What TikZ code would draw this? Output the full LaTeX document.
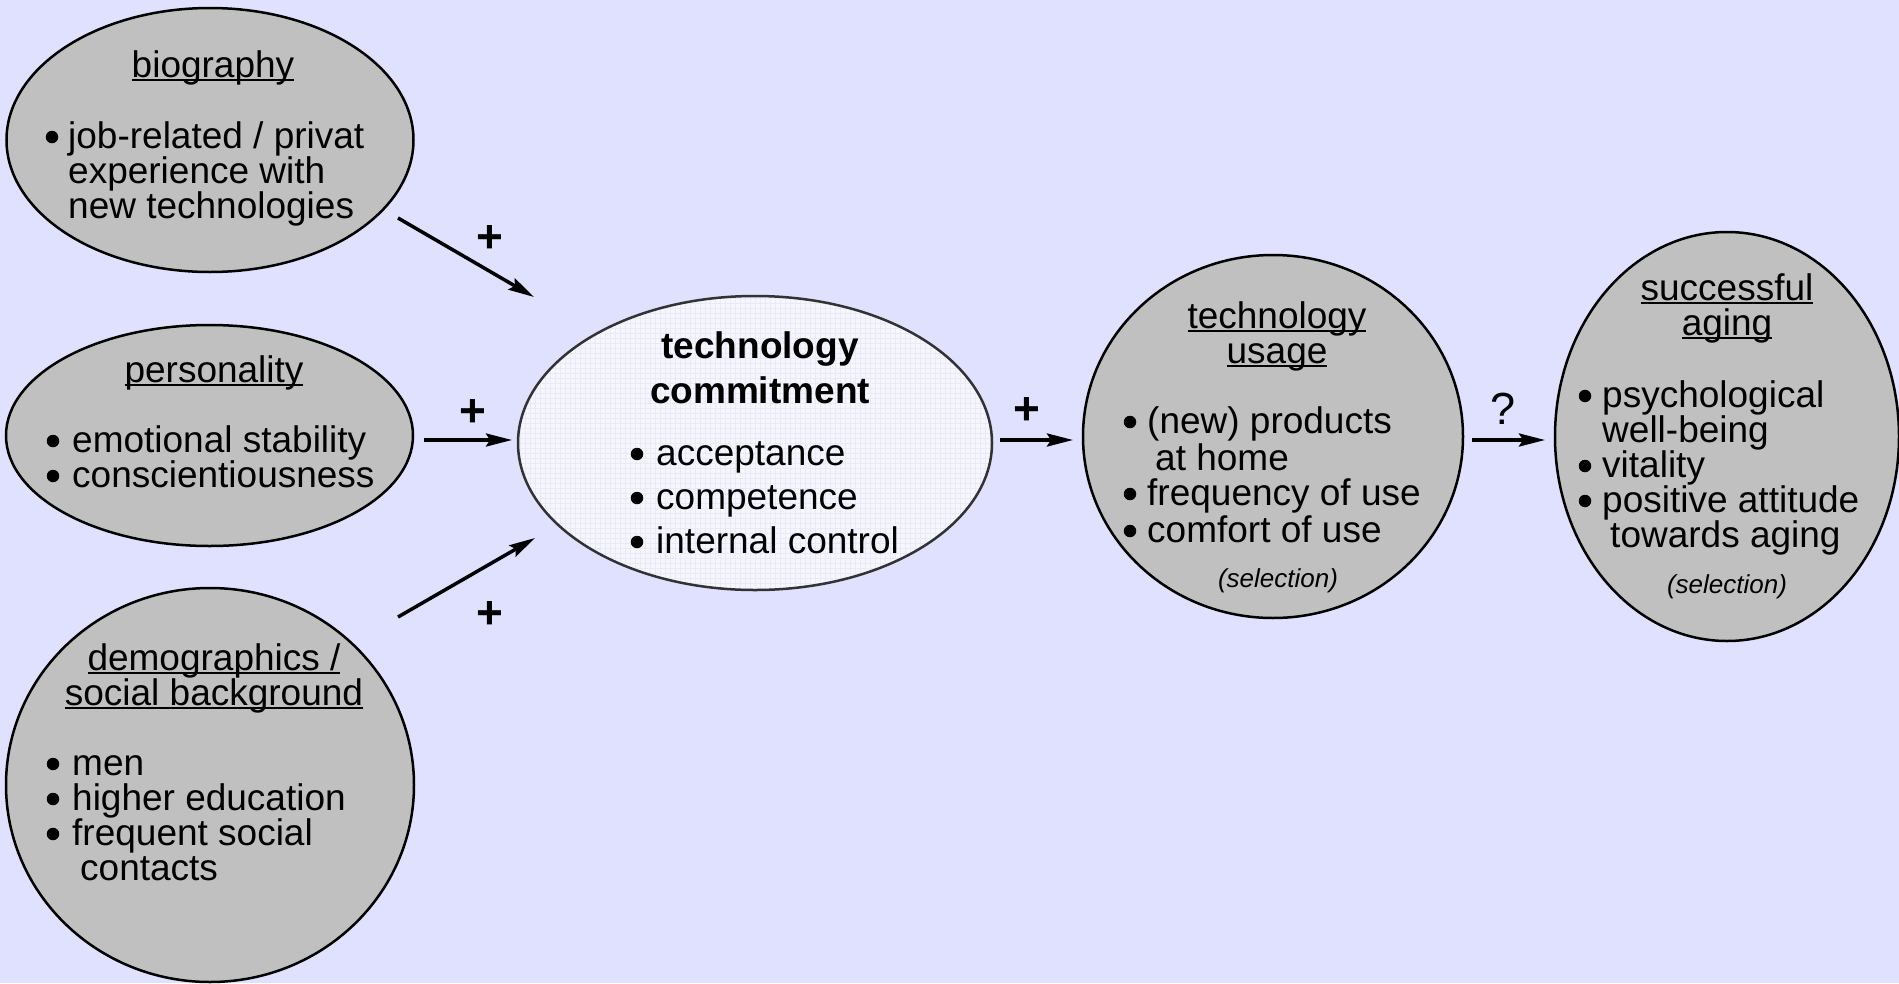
\documentclass[tikz,border=0pt]{standalone}
\usepackage{fontspec}
\setmainfont{Liberation Sans}
\usetikzlibrary{shapes.geometric,arrows.meta}
\definecolor{bg}{RGB}{224,224,255}
\definecolor{ovalfill}{RGB}{192,192,192}
\definecolor{corefill}{RGB}{246,246,255}
\definecolor{coregrid}{RGB}{233,233,248}
\definecolor{coreline}{RGB}{50,50,50}
\newcommand\ulx[1]{\setbox0=\hbox{#1}\rlap{\rule[-4pt]{\wd0}{2pt}}\box0}
\tikzset{
  oval/.style={ellipse, draw=black, line width=2.5pt, fill=ovalfill, inner sep=0pt},
  coreoval/.style={ellipse, draw=coreline, line width=2.5pt, fill=corefill, inner sep=0pt,
    path picture={\draw[coregrid, line width=0.5pt, step=5pt]
      (path picture bounding box.south west) grid (path picture bounding box.north east);}},
  txt/.style={font=\fontsize{37}{40}\selectfont, inner sep=0pt, text=black},
  hdtxt/.style={font=\fontsize{37}{40}\selectfont\bfseries, inner sep=0pt, text=black},
  seltxt/.style={font=\fontsize{26}{30}\selectfont\itshape, inner sep=0pt, text=black},
  dotb/.style={circle, fill=black, minimum size=12.5pt, inner sep=0pt},
  arr/.style={line width=3.5pt, -{Stealth[length=26pt,width=13pt,inset=4pt]}},
  sign/.style={font=\fontsize{46}{46}\selectfont\bfseries, inner sep=0pt},
  qsign/.style={font=\fontsize{45}{46}\selectfont, inner sep=0pt}
}
% heading line: name, center x, baseline y, text
\newcommand\headln[4]{\node[txt,anchor=base] (#1) at (#2,#3) {\ulx{#4}};}
% bullet line: name, bullet x, text x, baseline y, text
\newcommand\bulln[5]{\node[dotb] (#1-dot) at (#2,#4-11) {};
  \node[txt,anchor=base west] (#1) at (#3,#4) {#5};}
% continuation line: name, x, baseline y, text
\newcommand\contln[4]{\node[txt,anchor=base west] (#1) at (#2,#3) {#4};}
\begin{document}
\begin{tikzpicture}[x=1pt,y=-1pt]
\useasboundingbox (0,0) rectangle (1899,983);
\fill[bg] (0,0) rectangle (1899,983);

% ellipses
\node[oval, minimum width=407pt, minimum height=264pt] (bio) at (210,140) {};
\node[oval, minimum width=407pt, minimum height=221pt] (pers) at (209.5,435.5) {};
\node[oval, minimum width=408pt, minimum height=394pt] (demo) at (210,785) {};
\node[coreoval, minimum width=474pt, minimum height=294pt] (core) at (755,443) {};
\node[oval, minimum width=380pt, minimum height=363pt] (usage) at (1273,436.5) {};
\node[oval, minimum width=344pt, minimum height=409pt] (aging) at (1727,436.5) {};

% biography
\headln{bioH}{213}{77}{biography}
\bulln{bio1}{52}{68}{148}{job-related / privat}
\contln{bio2}{68}{183}{experience with}
\contln{bio3}{68}{218}{new technologies}

% personality
\headln{persH}{214}{382}{personality}
\bulln{pers1}{53}{72}{452}{emotional stability}
\bulln{pers2}{53}{72}{487}{conscientiousness}

% demographics
\headln{demoH1}{214}{670}{demographics /}
\headln{demoH2}{214}{705}{social background}
\bulln{demo1}{53}{72}{775}{men}
\bulln{demo2}{53}{72}{810}{higher education}
\bulln{demo3}{53}{72}{845}{frequent social}
\contln{demo4}{80}{880}{contacts}

% technology commitment
\node[hdtxt,anchor=base] (coreH1) at (760,358) {technology};
\node[hdtxt,anchor=base] (coreH2) at (760,403) {commitment};
\bulln{core1}{637}{656}{465}{acceptance}
\bulln{core2}{637}{656}{509}{competence}
\bulln{core3}{637}{656}{553}{internal control}

% technology usage
\headln{useH1}{1277}{328}{technology}
\headln{useH2}{1277}{363}{usage}
\bulln{use1}{1130}{1147}{433}{(new) products}
\contln{use2}{1155}{470}{at home}
\bulln{use3}{1130}{1147}{505}{frequency of use}
\bulln{use4}{1130}{1147}{542}{comfort of use}
\node[seltxt,anchor=base] (useSel) at (1278,587) {(selection)};

% successful aging
\headln{ageH1}{1727}{300}{successful}
\headln{ageH2}{1727}{335}{aging}
\bulln{age1}{1585}{1602}{407}{psychological}
\contln{age2}{1602}{442}{well-being}
\bulln{age3}{1585}{1602}{477}{vitality}
\bulln{age4}{1585}{1602}{512}{positive attitude}
\contln{age5}{1610}{547}{towards aging}
\node[seltxt,anchor=base] (ageSel) at (1727,593) {(selection)};

% connectors
\coordinate (a1s) at (398,218); \coordinate (a1e) at (534,297);
\coordinate (a2s) at (424,440); \coordinate (a2e) at (512,440);
\coordinate (a3s) at (398,617); \coordinate (a3e) at (535,538);
\coordinate (a4s) at (1000,440); \coordinate (a4e) at (1073,440);
\coordinate (a5s) at (1472,440); \coordinate (a5e) at (1545,440);
\draw[arr] (a1s) -- (a1e);
\draw[arr] (a2s) -- (a2e);
\draw[arr] (a3s) -- (a3e);
\draw[arr] (a4s) -- (a4e);
\draw[arr] (a5s) -- (a5e);

% signs
\node[sign] (p1) at (490,239) {+};
\node[sign] (p2) at (473,413) {+};
\node[sign] (p3) at (490,615) {+};
\node[sign] (p4) at (1027,411) {+};
\node[qsign,anchor=base] (q5) at (1503,424) {?};
\end{tikzpicture}
\end{document}
